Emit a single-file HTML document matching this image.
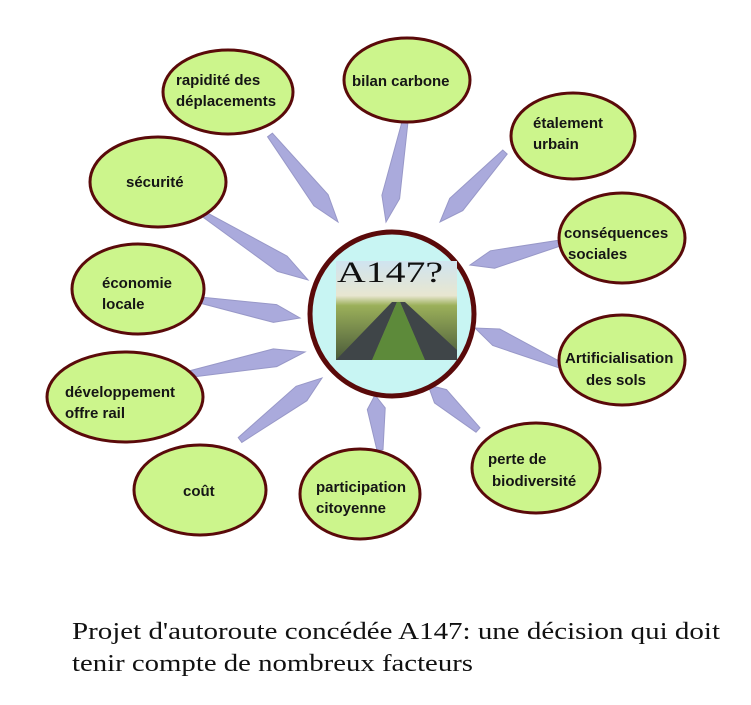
<!DOCTYPE html>
<html><head><meta charset="utf-8"><style>
html,body{margin:0;padding:0;background:#fff;width:751px;height:705px;overflow:hidden}
svg{display:block}
.t{font-family:"Liberation Sans",sans-serif;font-weight:bold;font-size:15px;fill:#151515}
.cap{font-family:"Liberation Serif",serif;font-size:24px;fill:#111}
</style></head><body>
<svg id="s" width="751" height="705" xmlns="http://www.w3.org/2000/svg">
<defs>
<linearGradient id="road" x1="0" y1="0" x2="0" y2="1">
<stop offset="0" stop-color="#cfe4f0"/><stop offset="0.35" stop-color="#e8e6d0"/>
<stop offset="0.45" stop-color="#9bb05a"/><stop offset="1" stop-color="#4a5a3a"/>
</linearGradient>
</defs>
<g id="spikes"></g>
<g stroke="#5a0a0a" stroke-width="3" fill="#ccf58c">
<ellipse cx="228" cy="92" rx="65" ry="42"/>
<ellipse cx="407" cy="80" rx="63" ry="42"/>
<ellipse cx="573" cy="136" rx="62" ry="43"/>
<ellipse cx="622" cy="238" rx="63" ry="45"/>
<ellipse cx="622" cy="360" rx="63" ry="45"/>
<ellipse cx="536" cy="468" rx="64" ry="45"/>
<ellipse cx="360" cy="494" rx="60" ry="45"/>
<ellipse cx="200" cy="490" rx="66" ry="45"/>
<ellipse cx="125" cy="397" rx="78" ry="45"/>
<ellipse cx="138" cy="289" rx="66" ry="45"/>
<ellipse cx="158" cy="182" rx="68" ry="45"/>
</g>
<circle cx="392" cy="314" r="82" fill="#c8f5f3" stroke="#5a0a0a" stroke-width="5"/>
<rect x="336" y="261" width="121" height="99" fill="url(#road)"/>
<polygon points="336,360 392,302 397,302 372,360" fill="#3f4548"/>
<polygon points="400,302 405,302 457,350 457,360 425,360" fill="#3f4548"/>
<polygon points="372,360 397,302 400,302 425,360" fill="#5d8a3a"/>
<text x="337" y="282" font-family="Liberation Serif,serif" font-size="30" fill="#111" textLength="106" lengthAdjust="spacingAndGlyphs">A147?</text>
<g class="t">
<text x="176" y="85">rapidité des</text><text x="176" y="106">déplacements</text>
<text x="352" y="86">bilan carbone</text>
<text x="533" y="128">étalement</text><text x="533" y="149">urbain</text>
<text x="564" y="238">conséquences</text><text x="568" y="259">sociales</text>
<text x="565" y="363">Artificialisation</text><text x="586" y="385">des sols</text>
<text x="488" y="464">perte de</text><text x="492" y="486">biodiversité</text>
<text x="316" y="492">participation</text><text x="316" y="513">citoyenne</text>
<text x="183" y="496">coût</text>
<text x="65" y="397">développement</text><text x="65" y="418">offre rail</text>
<text x="102" y="288">économie</text><text x="102" y="309">locale</text>
<text x="126" y="187">sécurité</text>
</g>
<text class="cap" x="72" y="639" textLength="648" lengthAdjust="spacingAndGlyphs">Projet d'autoroute concédée A147: une décision qui doit</text>
<text class="cap" x="72" y="671" textLength="401" lengthAdjust="spacingAndGlyphs">tenir compte de nombreux facteurs</text>
</svg>
<script>
var d=[[270,135,338,222],[405,122,386,222],[505,152,440,222],[560,243,470,265],[560,365,475,328],[478,430,428,385],[380,450,375,395],[240,440,322,378],[185,375,305,352],[200,300,300,318],[205,215,308,280]];
var g=document.getElementById('spikes'),h='';
d.forEach(function(a){var dx=a[2]-a[0],dy=a[3]-a[1],L=Math.hypot(dx,dy),nx=-dy/L,ny=dx/L;
var mx=a[0]+dx*0.75,my=a[1]+dy*0.75,w=9,s=3;
var p=[[a[0]+nx*s,a[1]+ny*s],[mx+nx*w,my+ny*w],[a[2],a[3]],[mx-nx*w,my-ny*w],[a[0]-nx*s,a[1]-ny*s]];
h+='<polygon points="'+p.map(function(q){return q[0].toFixed(1)+','+q[1].toFixed(1)}).join(' ')+'" fill="#aaaadc" stroke="#9898c8" stroke-width="1"/>';});
g.innerHTML=h;
</script>
</body></html>
